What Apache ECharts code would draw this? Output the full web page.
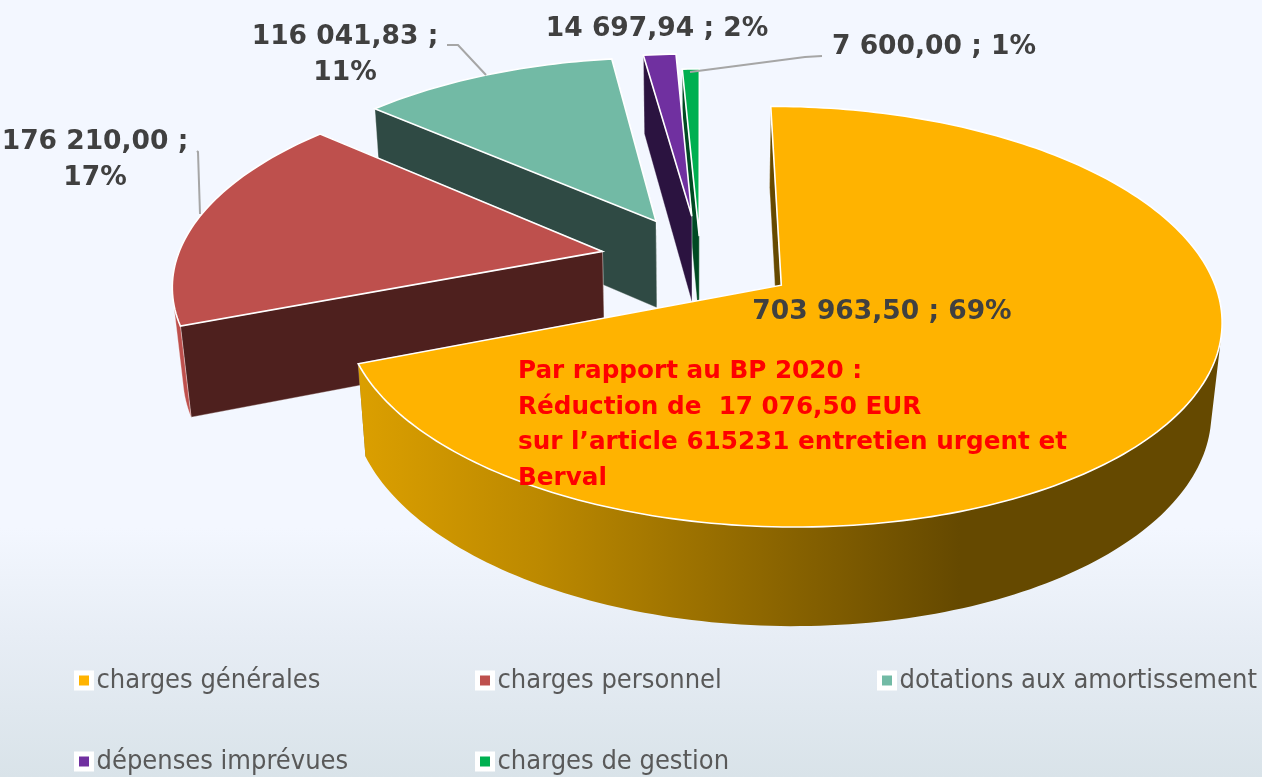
<!DOCTYPE html>
<html>
<head>
<meta charset="utf-8">
<title>Dépenses</title>
<script src="https://cdn.jsdelivr.net/npm/echarts@6/dist/echarts.min.js"></script>
<style>
  html, body { margin: 0; padding: 0; }
  #chart { width: 1262px; height: 777px; }
</style>
</head>
<body>
<div id="chart"></div>
<script>
// valeurs
const categories = ['charges générales', 'charges personnel', 'dotations aux amortissement', 'dépenses imprévues', 'charges de gestion'];
const amounts = [703963.50, 176210.00, 116041.83, 14697.94, 7600.00];
const percents = [69, 17, 11, 2, 1];
const noteLines = [
  'Par rapport au BP 2020 :',
  'Réduction de  17 076,50 EUR',
  'sur l’article 615231 entretien urgent et',
  'Berval'
];

// couleurs
const topColors = ['#FFB300', '#BE504D', '#72BAA5', '#7030A0', '#00B050'];
const wallColors = ['#654900', '#4E201E', '#2F4A44', '#2B1340', '#004A22'];

// [A] Caméra: perspective du disque
const cam = { cx: 700.4, cy: 259.4, rx: 425.7, ry: 198, k: 0.147, q: 0.02, depth: 90 };
// décalage de chaque part par rapport au centre
const explodes = [0.226, 0.235, 0.226, 0.226, 0.12];

function project(u, v, h) {
  const s = 1 / (1 - cam.k * v + cam.q * h);
  return [cam.cx + cam.rx * u * s, cam.cy + (cam.ry * v + cam.depth * h) * s];
}

// [B] Angles de chaque part (sens horaire depuis midi)
const total = amounts.reduce((a, b) => a + b, 0);
const startAngles = [];
let running = 0;
amounts.forEach(a => { startAngles.push(running); running += a / total * Math.PI * 2; });

function formatAmount(v) {
  const parts = v.toFixed(2).split('.');
  return parts[0].replace(/\B(?=(\d{3})+$)/g, ' ') + ',' + parts[1];
}

// [C] Étiquettes et lignes de rappel
const labelLayout = [
  { x: 882, y: 312, text: i => `${formatAmount(amounts[i])} ; ${percents[i]}%` },
  { x: 95, y: 160.5, text: i => `${formatAmount(amounts[i])} ;\n${percents[i]}%` },
  { x: 345, y: 55, text: i => `${formatAmount(amounts[i])} ;\n${percents[i]}%` },
  { x: 657, y: 29, text: i => `${formatAmount(amounts[i])} ; ${percents[i]}%` },
  { x: 934, y: 47, text: i => `${formatAmount(amounts[i])} ; ${percents[i]}%` }
];
const leaders = [
  null,
  [[197, 151], [198, 152], [200, 214]],
  [[447, 45], [458, 45], [486, 75]],
  null,
  [[690, 72], [805, 57], [822, 56]]
];

const orangeWall = new echarts.graphic.LinearGradient(360, 0, 960, 0, [
  { offset: 0, color: '#DB9F00' },
  { offset: 0.3, color: '#BC8900' },
  { offset: 0.7, color: '#8A6400' },
  { offset: 1, color: '#654900' }
], true);

function renderSlice(params, api) {
  const i = api.value(0);
  const a0 = startAngles[i];
  const a1 = a0 + amounts[i] / total * Math.PI * 2;
  const mid = (a0 + a1) / 2;
  const ou = Math.sin(mid) * explodes[i];
  const ov = -Math.cos(mid) * explodes[i];

  const steps = Math.max(2, Math.ceil((a1 - a0) / 0.02));
  const topPts = [], botPts = [];
  for (let n = 0; n <= steps; n++) {
    const t = a0 + (a1 - a0) * n / steps;
    const u = ou + Math.sin(t), v = ov - Math.cos(t);
    topPts.push(project(u, v, 0));
    botPts.push(project(u, v, 1));
  }
  const apexTop = project(ou, ov, 0);
  const apexBot = project(ou, ov, 1);

  // partie de la paroi extérieure tournée vers nous
  const front = [];
  for (let n = 0; n < steps; n++) {
    const q = [topPts[n], topPts[n + 1], botPts[n + 1], botPts[n]];
    let area = 0;
    for (let j = 0; j < 4; j++) {
      const p = q[j], r = q[(j + 1) % 4];
      area += p[0] * r[1] - r[0] * p[1];
    }
    if (area < 0) front.push(n);
  }
  const children = [];
  const wallStroke = { stroke: 'rgba(255,255,255,0.55)', lineWidth: 0.6 };
  const poly = (points, fill, stroke, lw) => ({
    type: 'polygon',
    shape: { points },
    style: { fill, stroke, lineWidth: lw }
  });

  // parois radiales
  children.push(poly([apexTop, topPts[steps], botPts[steps], apexBot], wallColors[i], wallStroke.stroke, wallStroke.lineWidth));
  children.push(poly([apexTop, topPts[0], botPts[0], apexBot], wallColors[i], wallStroke.stroke, wallStroke.lineWidth));

  // paroi extérieure
  if (front.length) {
    const first = front[0], last = front[front.length - 1] + 1;
    const pts = topPts.slice(first, last + 1).concat(botPts.slice(first, last + 1).reverse());
    children.push(poly(pts, i === 0 ? orangeWall : topColors[i], i === 0 ? null : wallStroke.stroke, wallStroke.lineWidth));
  }

  // dessus
  children.push(poly([apexTop].concat(topPts), topColors[i], '#FFFFFF', 1.6));

  if (leaders[i]) {
    children.push({
      type: 'polyline',
      shape: { points: leaders[i] },
      style: { fill: null, stroke: '#A6A6A6', lineWidth: 2 }
    });
  }
  const lab = labelLayout[i];
  children.push({
    type: 'text',
    x: lab.x,
    y: lab.y,
    style: {
      text: lab.text(i),
      fill: '#404040',
      font: 'bold 26.5px "DejaVu Sans"',
      align: 'center',
      verticalAlign: 'middle',
      lineHeight: 36
    }
  });
  return { type: 'group', children };
}

const drawOrder = [4, 3, 2, 1, 0];

const legendSpots = [[74, 667], [475, 667], [877, 667], [74, 748], [475, 748]];

const option = {
  animation: false,
  backgroundColor: new echarts.graphic.LinearGradient(0, 0, 0, 1, [
    { offset: 0, color: '#F3F7FF' },
    { offset: 0.68, color: '#F3F7FF' },
    { offset: 0.82, color: '#E7EDF5' },
    { offset: 1, color: '#D9E3E9' }
  ]),
  legend: categories.map((name, i) => ({
    data: [name],
    left: legendSpots[i][0],
    top: legendSpots[i][1],
    padding: 0,
    itemWidth: 15,
    itemHeight: 15,
    itemGap: 0,
    icon: 'rect',
    selectedMode: false,
    itemStyle: { borderColor: '#FFFFFF', borderWidth: 5 },
    textStyle: { color: '#595959', fontSize: 27, fontFamily: '"DejaVu Sans Condensed"' }
  })),
  series: drawOrder.map(i => ({
    type: 'custom',
    name: categories[i],
    coordinateSystem: 'none',
    silent: true,
    itemStyle: { color: topColors[i] },
    data: [[i]],
    renderItem: renderSlice
  })),
  graphic: [{
    type: 'text',
    left: 518,
    top: 354,
    z: 100,
    style: {
      text: noteLines.join('\n'),
      fill: '#FF0000',
      font: 'bold 24.7px "DejaVu Sans"',
      lineHeight: 35.5
    }
  }]
};

const myChart = echarts.init(document.getElementById('chart'));
myChart.setOption(option);
</script>
</body>
</html>
